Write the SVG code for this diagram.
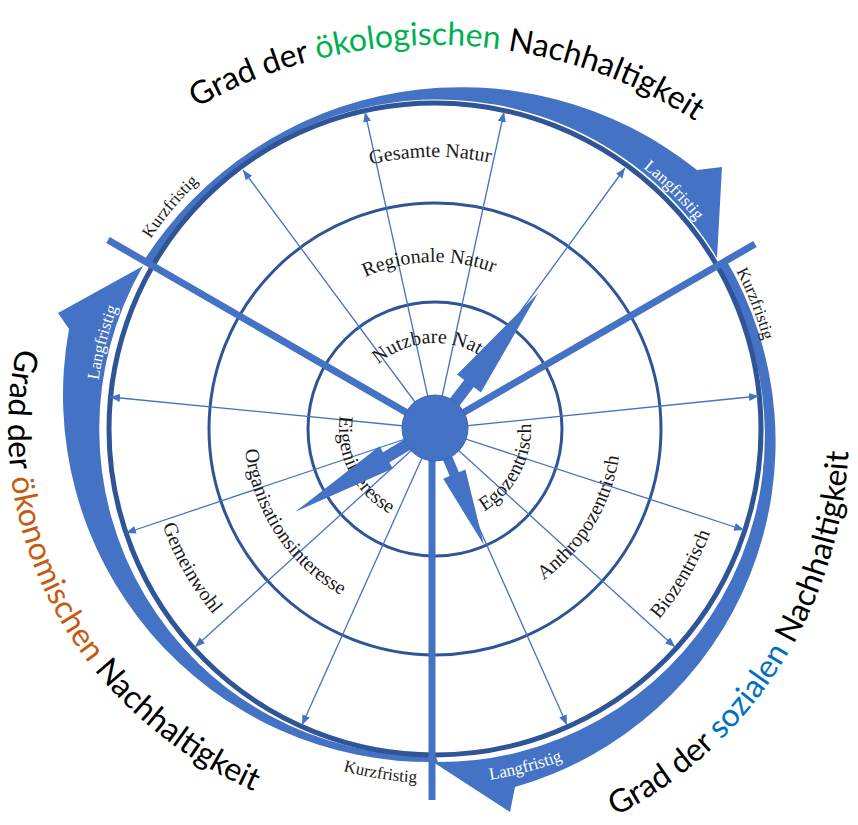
<svg xmlns="http://www.w3.org/2000/svg" width="858" height="825" viewBox="0 0 858 825">
<style>
  .band{fill:#4472C4}
  .ring{fill:none;stroke:#2F5597}
  .spoke{fill:none;stroke:#4472C4;stroke-width:1.3;marker-end:url(#tip)}
  .sep{stroke:#4472C4;stroke-width:7}
  .wedge{fill:#4472C4}
  .lbl{font-family:"Liberation Serif","Times New Roman",serif;font-size:20px;fill:#1a1a1a}
  .term{font-family:"Liberation Serif","Times New Roman",serif;font-size:17px;fill:#1a1a1a}
  .term.inv{fill:#ffffff}
  .title{font-family:Lato,"Open Sans",sans-serif;font-size:32px;fill:#000000}
</style>
<defs>
  <marker id="tip" markerUnits="userSpaceOnUse" markerWidth="11" markerHeight="9" refX="10" refY="4" orient="auto">
    <path d="M0,0 L10,4 L0,8 Z" fill="#4472C4"/>
  </marker>
  <!-- title baselines -->
  <path id="arcTop" d="M0,429 A435,384 0 0 1 870,429"/>
  <path id="arcLeft" d="M435,29 A427,400 0 0 0 435,829"/>
  <path id="arcRight" d="M435,859 A414,430 0 0 0 435,-1"/>
  <!-- label baselines -->
  <path id="pGes" d="M256.6,223.6 A272,272 0 0 1 606.2,217.6"/>
  <path id="pReg" d="M287.5,350.6 A167,167 0 0 1 576.6,340.5"/>
  <path id="pNutz" d="M350.3,414.1 A86,86 0 0 1 519.7,414.1"/>
  <path id="pEig" d="M351.9,381 A96,96 0 0 0 425,524.5"/>
  <path id="pOrg" d="M255.5,363.7 A191,191 0 0 0 424.3,619.7"/>
  <path id="pGem" d="M150.7,377.3 A289,289 0 0 0 334.7,700.1"/>
  <path id="pEgo" d="M455,522.9 A96,96 0 0 0 524,393"/>
  <path id="pAnth" d="M462.8,612.9 A186,186 0 0 0 611.3,369.7"/>
  <path id="pBio" d="M533.1,706.1 A294,294 0 0 0 725,380.5"/>
  <path id="pKul" d="M93,429 A342,342 0 0 1 375.6,92.2"/>
  <path id="pKur" d="M597.8,130.5 A340,340 0 0 1 757.3,537.5"/>
  <path id="pKub" d="M167.8,661.3 A354,354 0 0 0 617.3,732.4"/>
  <path id="pLtr" d="M464.1,96.3 A334,334 0 0 1 767.7,399.9"/>
  <path id="pLl" d="M127.9,574.8 A340,340 0 0 1 238,151.9"/>
  <path id="pLb" d="M285,750.7 A355,355 0 0 0 725.8,632.6"/>
</defs>

<!-- curved arrow bands around the outer ring -->
<g id="arrow-oekologisch">
  <path class="band" d="M143,262 A377,377 0 0 1 697,170 L722,167 L717,258 A326,326 0 0 0 153,266 Z"/>
</g>
<g id="arrow-sozial">
  <path class="band" d="M725,258 A359,359 0 0 1 515,787 L510,812 L433,762 A326,326 0 0 0 717,266 Z"/>
</g>
<g id="arrow-oekonomisch">
  <path class="band" d="M438,762 A367,367 0 0 1 69,329 L58,313 L143,266 A326,326 0 0 0 435,755 Z"/>
</g>

<!-- concentric rings -->
<g id="ring-outer"><circle class="ring" cx="435" cy="429" r="326" stroke-width="5"/></g>
<g id="ring-middle"><circle class="ring" cx="435" cy="429" r="226" stroke-width="3"/></g>
<g id="ring-inner"><circle class="ring" cx="435" cy="429" r="127" stroke-width="3"/></g>

<!-- radial connectors -->
<g id="connectors">
  <line class="spoke" x1="435" y1="429" x2="365" y2="112"/>
  <line class="spoke" x1="435" y1="429" x2="504" y2="112"/>
  <line class="spoke" x1="435" y1="429" x2="243" y2="170"/>
  <line class="spoke" x1="435" y1="429" x2="625" y2="168"/>
  <line class="spoke" x1="435" y1="429" x2="110" y2="397"/>
  <line class="spoke" x1="435" y1="429" x2="759" y2="396"/>
  <line class="spoke" x1="435" y1="429" x2="126" y2="533"/>
  <line class="spoke" x1="435" y1="429" x2="744" y2="530"/>
  <line class="spoke" x1="435" y1="429" x2="195" y2="647"/>
  <line class="spoke" x1="435" y1="429" x2="675" y2="647"/>
  <line class="spoke" x1="435" y1="429" x2="302" y2="725"/>
  <line class="spoke" x1="435" y1="429" x2="567" y2="725"/>
</g>

<!-- ring labels -->
<g id="labels-natur">
  <text class="lbl"><textPath href="#pGes" startOffset="50%" text-anchor="middle">Gesamte Natur</textPath></text>
  <text class="lbl"><textPath href="#pReg" startOffset="50%" text-anchor="middle">Regionale Natur</textPath></text>
  <text class="lbl"><textPath href="#pNutz" startOffset="50%" text-anchor="middle">Nutzbare Natur</textPath></text>
</g>
<g id="labels-interesse">
  <text class="lbl"><textPath href="#pEig" startOffset="50%" text-anchor="middle">Eigeninteresse</textPath></text>
  <text class="lbl"><textPath href="#pOrg" startOffset="50%" text-anchor="middle">Organisationsinteresse</textPath></text>
  <text class="lbl"><textPath href="#pGem" startOffset="50%" text-anchor="middle">Gemeinwohl</textPath></text>
</g>
<g id="labels-zentrisch">
  <text class="lbl"><textPath href="#pEgo" startOffset="50%" text-anchor="middle">Egozentrisch</textPath></text>
  <text class="lbl"><textPath href="#pAnth" startOffset="50%" text-anchor="middle">Anthropozentrisch</textPath></text>
  <text class="lbl"><textPath href="#pBio" startOffset="50%" text-anchor="middle">Biozentrisch</textPath></text>
</g>
<g id="labels-frist">
  <text class="term"><textPath href="#pKul" startOffset="50%" text-anchor="middle">Kurzfristig</textPath></text>
  <text class="term"><textPath href="#pKur" startOffset="50%" text-anchor="middle">Kurzfristig</textPath></text>
  <text class="term"><textPath href="#pKub" startOffset="50%" text-anchor="middle">Kurzfristig</textPath></text>
  <text class="term inv"><textPath href="#pLtr" startOffset="50%" text-anchor="middle">Langfristig</textPath></text>
  <text class="term inv"><textPath href="#pLl" startOffset="50%" text-anchor="middle">Langfristig</textPath></text>
  <text class="term inv"><textPath href="#pLb" startOffset="50%" text-anchor="middle">Langfristig</textPath></text>
</g>

<!-- sector dividers -->
<g id="dividers">
  <line class="sep" x1="435" y1="429" x2="108" y2="240"/>
  <line class="sep" x1="435" y1="429" x2="755" y2="244"/>
  <line class="sep" x1="432" y1="429" x2="432" y2="800"/>
</g>

<!-- block arrows from the hub -->
<g id="wedge-natur"><path class="wedge" d="M448.4,400.5 L464.2,379.9 L457.1,374.4 L538.2,292.9 L480.9,392.6 L473.8,387.1 L458,407.7 Z"/></g>
<g id="wedge-interesse"><path class="wedge" d="M414.1,447.5 L389.3,462.4 L392.9,468.4 L295.3,511.8 L379.5,446.2 L383.1,452.2 L407.9,437.3 Z"/></g>
<g id="wedge-zentrisch"><path class="wedge" d="M450.4,451.9 L458.9,472.3 L465.4,469.6 L484,545.2 L443.2,478.8 L449.7,476.1 L441.2,455.7 Z"/></g>

<g id="hub"><circle cx="435" cy="428" r="33" fill="#4472C4" stroke="#3B66B5" stroke-width="1"/></g>

<!-- outer titles -->
<g id="title-oekologisch">
  <text class="title"><textPath href="#arcTop" startOffset="51%" text-anchor="middle">Grad der <tspan fill="#00B050">ökologischen</tspan> Nachhaltigkeit</textPath></text>
</g>
<g id="title-oekonomisch">
  <text class="title"><textPath href="#arcLeft" startOffset="568">Grad der <tspan fill="#C55A11">ökonomischen</tspan> Nachhaltigkeit</textPath></text>
</g>
<g id="title-sozial">
  <text class="title"><textPath href="#arcRight" startOffset="187">Grad der <tspan fill="#0070C0">sozialen</tspan> Nachhaltigkeit</textPath></text>
</g>
</svg>
